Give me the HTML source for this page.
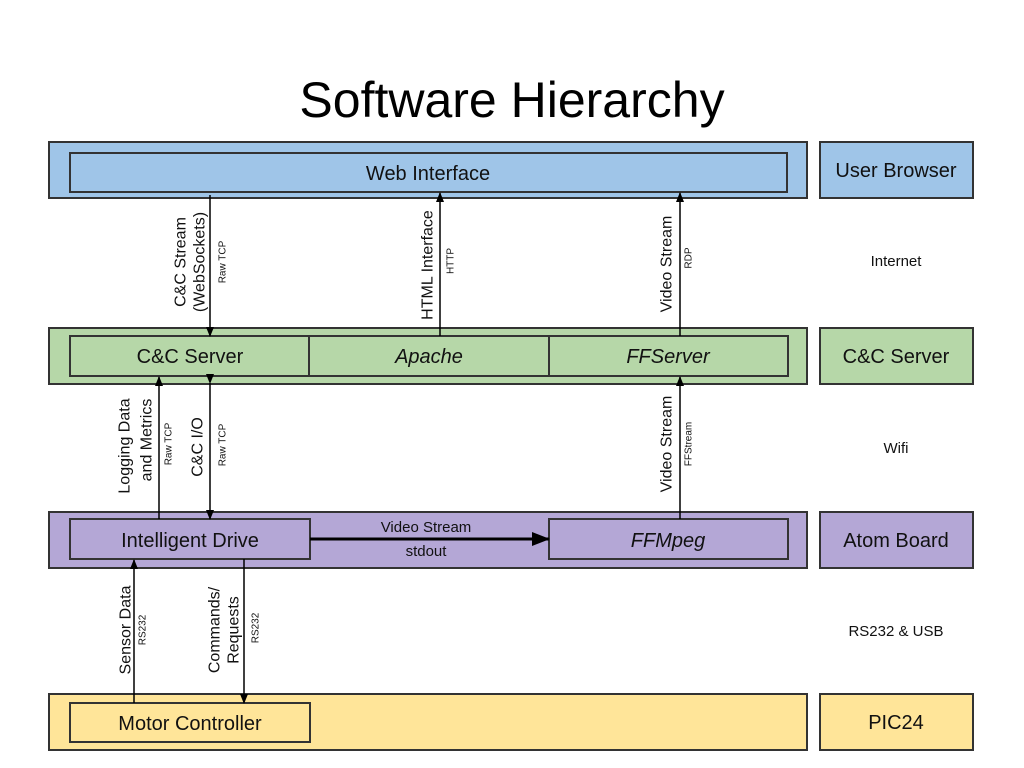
<!DOCTYPE html>
<html><head><meta charset="utf-8"><style>body{margin:0;background:#fff}svg{display:block}</style></head>
<body>
<svg width="1024" height="768" viewBox="0 0 1024 768" xmlns="http://www.w3.org/2000/svg" font-family="Liberation Sans, Arial, sans-serif">
<defs>
<marker id="a" markerWidth="10" markerHeight="10" refX="9" refY="5" orient="auto" markerUnits="userSpaceOnUse"><path d="M0,1 L10,5 L0,9 z" fill="#000"/></marker>
<marker id="b" markerWidth="18" markerHeight="16" refX="17" refY="8" orient="auto" markerUnits="userSpaceOnUse"><path d="M0,1 L18,8 L0,15 z" fill="#000"/></marker>
</defs>
<text x="512" y="117" font-size="50" text-anchor="middle" font-family="Liberation Sans, sans-serif" fill="#000">Software Hierarchy</text>
<g stroke="#333" stroke-width="2">
<rect x="49" y="142" width="758" height="56" fill="#9fc5e8"/>
<rect x="70" y="153" width="717" height="39" fill="#9fc5e8"/>
<rect x="820" y="142" width="153" height="56" fill="#9fc5e8"/>
<rect x="49" y="328" width="758" height="56" fill="#b6d7a8"/>
<rect x="70" y="336" width="718" height="40" fill="#b6d7a8"/>
<line x1="309" y1="336" x2="309" y2="376"/><line x1="549" y1="336" x2="549" y2="376"/>
<rect x="820" y="328" width="153" height="56" fill="#b6d7a8"/>
<rect x="49" y="512" width="758" height="56" fill="#b4a7d6"/>
<rect x="70" y="519" width="240" height="40" fill="#b4a7d6"/>
<rect x="549" y="519" width="239" height="40" fill="#b4a7d6"/>
<rect x="820" y="512" width="153" height="56" fill="#b4a7d6"/>
<rect x="49" y="694" width="758" height="56" fill="#ffe599"/>
<rect x="70" y="703" width="240" height="39" fill="#ffe599"/>
<rect x="820" y="694" width="153" height="56" fill="#ffe599"/>
</g>
<g font-size="20" text-anchor="middle" fill="#111">
<text x="428" y="180">Web Interface</text>
<text x="896" y="177">User Browser</text>
<text x="190" y="363">C&amp;C Server</text>
<text x="429" y="363" font-style="italic">Apache</text>
<text x="668" y="363" font-style="italic">FFServer</text>
<text x="896" y="363">C&amp;C Server</text>
<text x="190" y="547">Intelligent Drive</text>
<text x="668" y="547" font-style="italic">FFMpeg</text>
<text x="896" y="547">Atom Board</text>
<text x="190" y="730">Motor Controller</text>
<text x="896" y="729">PIC24</text>
</g>
<g font-size="15" text-anchor="middle" fill="#111">
<text x="896" y="266">Internet</text>
<text x="896" y="453">Wifi</text>
<text x="896" y="636">RS232 &amp; USB</text>
<text x="426" y="532">Video Stream</text>
<text x="426" y="556">stdout</text>
</g>
<g stroke="#000" stroke-width="1.5" fill="none">
<line x1="210" y1="195" x2="210" y2="336" marker-end="url(#a)"/>
<line x1="440" y1="336" x2="440" y2="193" marker-end="url(#a)"/>
<line x1="680" y1="336" x2="680" y2="193" marker-end="url(#a)"/>
<line x1="159" y1="519" x2="159" y2="377" marker-end="url(#a)"/>
<line x1="210" y1="383" x2="210" y2="519" marker-end="url(#a)" marker-start="url(#a)"/>
<line x1="680" y1="519" x2="680" y2="377" marker-end="url(#a)"/>
<line x1="134" y1="703" x2="134" y2="560" marker-end="url(#a)"/>
<line x1="244" y1="559" x2="244" y2="703" marker-end="url(#a)"/>
<line x1="310" y1="539" x2="549" y2="539" stroke-width="3" marker-end="url(#b)"/>
</g>
<g font-size="16" text-anchor="middle" dominant-baseline="central" fill="#111">
<text transform="translate(181,262) rotate(-90)">C&amp;C Stream</text>
<text transform="translate(200,262) rotate(-90)">(WebSockets)</text>
<text transform="translate(428,265) rotate(-90)">HTML Interface</text>
<text transform="translate(667,264) rotate(-90)">Video Stream</text>
<text transform="translate(125,446) rotate(-90)">Logging Data</text>
<text transform="translate(147,440) rotate(-90)">and Metrics</text>
<text transform="translate(198,447) rotate(-90)">C&amp;C I/O</text>
<text transform="translate(667,444) rotate(-90)">Video Stream</text>
<text transform="translate(126,630) rotate(-90)">Sensor Data</text>
<text transform="translate(215,630) rotate(-90)">Commands/</text>
<text transform="translate(234,630) rotate(-90)">Requests</text>
</g>
<g font-size="10" text-anchor="middle" dominant-baseline="central" fill="#111">
<text transform="translate(223,262) rotate(-90)">Raw TCP</text>
<text transform="translate(451,261) rotate(-90)">HTTP</text>
<text transform="translate(689,258) rotate(-90)">RDP</text>
<text transform="translate(169,444) rotate(-90)">Raw TCP</text>
<text transform="translate(223,445) rotate(-90)">Raw TCP</text>
<text transform="translate(689,444) rotate(-90)">FFStream</text>
<text transform="translate(143,630) rotate(-90)">RS232</text>
<text transform="translate(256,628) rotate(-90)">RS232</text>
</g>
</svg>
</body></html>
